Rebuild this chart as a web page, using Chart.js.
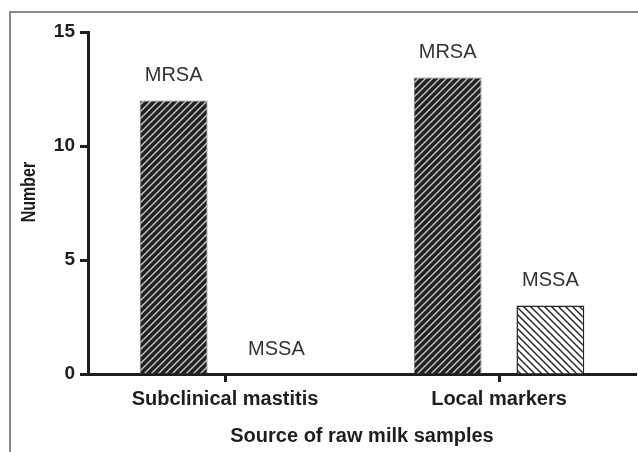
<!DOCTYPE html>
<html>
<head>
<meta charset="utf-8">
<script src="https://cdn.jsdelivr.net/npm/chart.js@4/dist/chart.umd.min.js"></script>
<style>
  html, body { margin: 0; padding: 0; background: #fff; }
  #wrap { width: 638px; height: 452px; position: relative; }
</style>
</head>
<body>
<div id="wrap"><canvas id="chart" width="638" height="452"></canvas></div>
<script>
// ------- Data -------
let categories = ["Subclinical mastitis", "Local markers"];
let mrsa = [12, 13];
let mssa = [0, 3];
let yTicks = [0, 5, 10, 15];
let yTitle = "Number";
let xTitle = "Source of raw milk samples";

let FONT = "'Liberation Sans', Arial, sans-serif";
let INK = "#1e1e1e";

// ------- Hatch patterns -------
function makeHatch(bg, fg, dir) {
  let s = 7;
  let c = document.createElement("canvas");
  c.width = s;
  c.height = s;
  let g = c.getContext("2d");
  g.fillStyle = bg;
  g.fillRect(0, 0, s, s);
  g.strokeStyle = fg;
  g.lineWidth = 1.4;
  g.beginPath();
  if (dir == "/") {
    g.moveTo(-1, s + 1); g.lineTo(s + 1, -1);
    g.moveTo(-1, 1); g.lineTo(1, -1);
    g.moveTo(s - 1, s + 1); g.lineTo(s + 1, s - 1);
  } else {
    g.moveTo(-1, -1); g.lineTo(s + 1, s + 1);
    g.moveTo(-1, s - 1); g.lineTo(1, s + 1);
    g.moveTo(s - 1, -1); g.lineTo(s + 1, 1);
  }
  g.stroke();
  return c;
}
let ctx = document.getElementById("chart").getContext("2d");
let darkHatch = ctx.createPattern(makeHatch("#222", "#c8c8c8", "/"), "repeat");
let lightHatch = ctx.createPattern(makeHatch("#fff", "#222", "\\"), "repeat");

// ------- Plugins -------
// gray frame around the figure (left + top) and the rotated y title
let framePlugin = {
  id: "frame",
  beforeDraw(chart) {
    let c = chart.ctx;
    c.save();
    c.strokeStyle = "#888";
    c.lineWidth = 2;
    c.beginPath();
    c.moveTo(10, 452);
    c.lineTo(10, 12);
    c.lineTo(638, 12);
    c.stroke();

    // y title, a bit narrower along its length like the original
    c.translate(29, 192);
    c.rotate(-Math.PI / 2);
    c.scale(0.8, 1);
    c.font = "bold 20px " + FONT;
    c.fillStyle = INK;
    c.textAlign = "center";
    c.textBaseline = "middle";
    c.fillText(yTitle, 0, 0);
    c.restore();
  },
};

// series name written above each bar
let barLabels = {
  id: "barLabels",
  afterDatasetsDraw(chart) {
    let c = chart.ctx;
    c.save();
    c.font = "20px " + FONT;
    c.fillStyle = "#333";
    c.textAlign = "center";
    c.textBaseline = "middle";
    chart.data.datasets.forEach((ds, i) => {
      chart.getDatasetMeta(i).data.forEach((el) => {
        c.fillText(ds.label, el.x, el.y - 25);
      });
    });
    c.restore();
  },
};

// ------- Chart -------
new Chart(ctx, {
  type: "bar",
  data: {
    labels: categories,
    datasets: [
      {
        label: "MRSA",
        data: mrsa,
        backgroundColor: darkHatch,
        borderColor: "#777",
        borderWidth: 1,
      },
      {
        label: "MSSA",
        data: mssa,
        backgroundColor: lightHatch,
        borderColor: "#222",
        borderWidth: 1.5,
      },
    ],
  },
  options: {
    responsive: false,
    animation: false,
    categoryPercentage: 0.75,
    barPercentage: 0.66,
    layout: { padding: { top: 32, right: 2, left: 0, bottom: 0 } },
    plugins: {
      legend: { display: false },
      tooltip: { enabled: false },
    },
    scales: {
      x: {
        offset: true,
        grid: { offset: false, drawOnChartArea: false, drawTicks: true, tickLength: 8, tickWidth: 3, color: INK },
        border: { display: true, width: 3, color: INK },
        ticks: { color: INK, padding: 5, font: { family: FONT, size: 20, weight: "bold" } },
        title: {
          display: true,
          text: xTitle,
          color: INK,
          padding: { top: 2, bottom: 4 },
          font: { family: FONT, size: 20, weight: "bold" },
        },
        afterFit(scale) { scale.height = 78; },
      },
      y: {
        min: 0,
        max: 15,
        afterBuildTicks(scale) { scale.ticks = yTicks.map((v) => ({ value: v })); },
        grid: { drawOnChartArea: false, drawTicks: true, tickLength: 8, tickWidth: 3, color: INK },
        border: { display: true, width: 3, color: INK },
        ticks: { color: INK, padding: 5, font: { family: FONT, size: 19, weight: "bold" } },
        afterFit(scale) { scale.width = 88; },
      },
    },
  },
  plugins: [framePlugin, barLabels],
});
</script>
</body>
</html>
